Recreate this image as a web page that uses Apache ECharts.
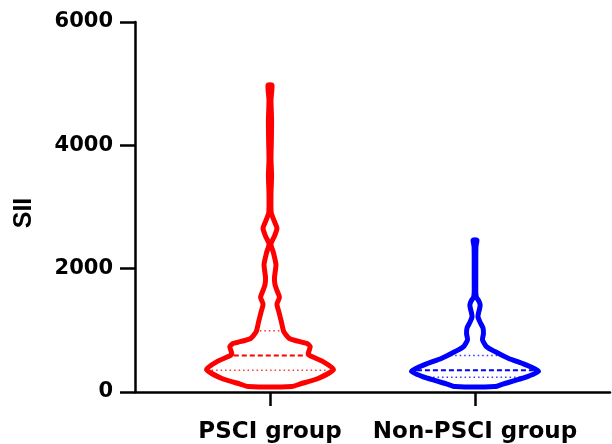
<!DOCTYPE html>
<html lang="en">
<head>
<meta charset="UTF-8">
<title></title>
<style>
    html, body { margin: 0; padding: 0; background: #fff; }
    #chart { width: 612px; height: 444px; }
</style>
</head>
<body>
<div id="chart"></div>
<script src="https://cdn.jsdelivr.net/npm/echarts@6/dist/echarts.min.js"></script>
<script>
    // data
    var categories = ['PSCI group', 'Non-PSCI group'];
    var yTicks = [0, 2000, 4000, 6000];

    // violin outline: SII level and relative density at that level
    var psciLevels = [88, 128, 224, 368, 496, 592, 624, 736, 784, 864, 976, 1136, 1296, 1424, 1536, 1648, 1744, 1856, 2064, 2256, 2400, 2528, 2656, 2784, 2912, 3216, 3504, 3776, 4096, 4416, 4736, 4976];
    var psciDensity = [22, 30, 49, 64, 53, 40, 38.5, 40.5, 37.5, 20, 14, 11.5, 9, 7, 9.5, 7, 5, 4.5, 6, 3.5, 1, 4.5, 7, 4, 1.2, 1, 1.6, 1, 1.4, 1.6, 1, 2];
    var psciQuartiles = [352, 592, 992];

    var nonLevels = [88, 128, 224, 336, 448, 544, 656, 736, 848, 944, 1040, 1136, 1216, 1280, 1344, 1408, 1472, 1536, 1616, 1856, 2176, 2368, 2464];
    var nonDensity = [20, 28, 48, 64, 50, 34, 20, 11.5, 7.5, 8.5, 8, 5, 3, 3.5, 4.5, 5.2, 4, 1.5, 0.8, 0.8, 0.8, 1, 2];
    var nonQuartiles = [240, 352, 592];

    var groups = [
        { levels: psciLevels, density: psciDensity, quartiles: psciQuartiles, color: '#ff0000' },
        { levels: nonLevels, density: nonDensity, quartiles: nonQuartiles, color: '#0000ff' }
    ];

    var maxHalfWidth = 0.31; // in x-axis units
    var strokeW = 5;

    function densityAt(g, v) {
        for (var i = 0; i < g.levels.length - 1; i++) {
            if (v >= g.levels[i] && v <= g.levels[i + 1]) {
                var t = (v - g.levels[i]) / (g.levels[i + 1] - g.levels[i]);
                return g.density[i] + t * (g.density[i + 1] - g.density[i]);
            }
        }
        return 0;
    }

    function renderViolin(params, api) {
        var idx = api.value(0);
        var g = groups[idx];
        var maxD = Math.max.apply(null, g.density);
        var right = [], left = [];
        for (var i = 0; i < g.levels.length; i++) {
            var w = g.density[i] / maxD * maxHalfWidth;
            right.push(api.coord([idx + w, g.levels[i]]));
            left.unshift(api.coord([idx - w, g.levels[i]]));
        }
        var children = [{
            type: 'polygon',
            shape: { points: right.concat(left), smooth: 0.2 },
            style: { fill: '#fff', stroke: g.color, lineWidth: strokeW, lineJoin: 'round' }
        }];
        var cx = api.coord([idx, 0])[0];
        g.quartiles.forEach(function (q, k) {
            var w = densityAt(g, q) / maxD * maxHalfWidth;
            var p = api.coord([idx + w, q]);
            var half = p[0] - cx - strokeW / 2 - 1;
            children.push({
                type: 'line',
                shape: { x1: cx - half, y1: p[1], x2: cx + half, y2: p[1] },
                style: k === 1
                    ? { stroke: g.color, lineWidth: 2, lineDash: [5, 3] }
                    : { stroke: g.color, lineWidth: 1.5, lineDash: [1.5, 3], opacity: 0.8 }
            });
        });
        return { type: 'group', children: children };
    }

    var myChart = echarts.init(document.getElementById('chart'));

    var option = {
        animation: false,
        grid: { left: 135, right: 2, top: 22, bottom: 48 },
        xAxis: {
            type: 'value',
            min: -0.6585,
            max: 1.6585,
            splitLine: { show: false },
            axisLine: { lineStyle: { color: '#000', width: 2.5 } },
            axisTick: { customValues: [0, 1], length: 14, lineStyle: { color: '#000', width: 2.5 } },
            axisLabel: {
                customValues: [0, 1],
                formatter: function (v) { return categories[Math.round(v)]; },
                margin: 29,
                color: '#000',
                fontFamily: 'DejaVu Sans',
                fontWeight: 'bold',
                fontSize: 23
            }
        },
        yAxis: {
            type: 'value',
            min: yTicks[0],
            max: yTicks[yTicks.length - 1],
            interval: 2000,
            name: 'SII',
            nameLocation: 'middle',
            nameRotate: 90,
            nameGap: 98,
            nameTextStyle: { color: '#000', fontFamily: 'Liberation Sans', fontWeight: 'bold', fontSize: 25, padding: [0, 0, 0, -12] },
            splitLine: { show: false },
            axisLine: { show: true, onZero: false, lineStyle: { color: '#000', width: 2.5 } },
            axisTick: { show: true, length: 15, lineStyle: { color: '#000', width: 2.5 } },
            axisLabel: {
                margin: 22,
                formatter: function (v) { return String(v); },
                color: '#000',
                fontFamily: 'DejaVu Sans',
                fontWeight: 'bold',
                fontSize: 21
            }
        },
        series: [{
            type: 'custom',
            renderItem: renderViolin,
            data: [[0], [1]],
            clip: false
        }]
    };

    myChart.setOption(option);
</script>
</body>
</html>
